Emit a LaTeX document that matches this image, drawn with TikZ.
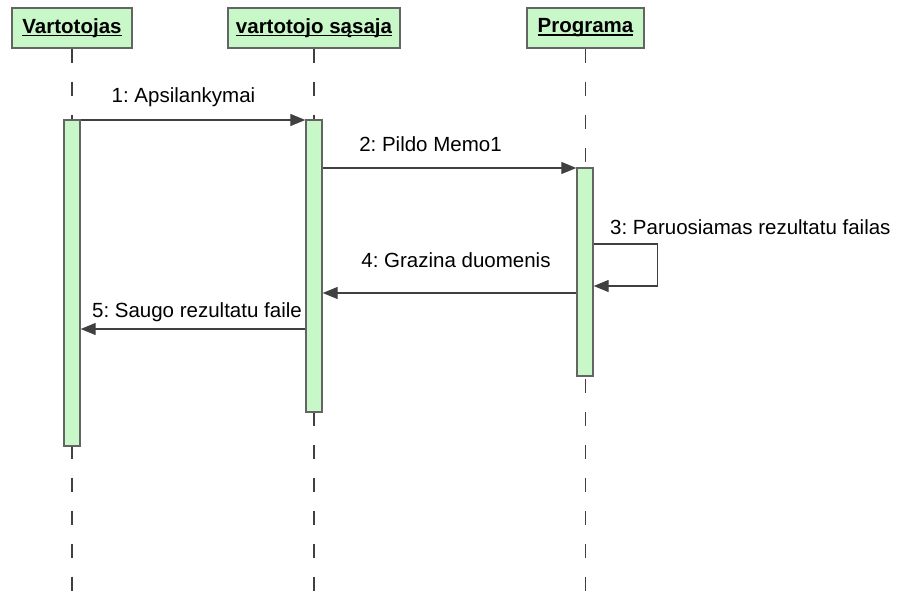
\documentclass[tikz,border=0pt]{standalone}
\usepackage{fontspec}
\setmainfont{Liberation Sans}
\usetikzlibrary{arrows.meta, positioning}

\definecolor{actgreen}{RGB}{200,248,200}
\definecolor{umlline}{RGB}{64,64,64}
\definecolor{umlframe}{RGB}{100,100,100}

% bold, underlined object name (rule kept out of the box size)
\newcommand{\objname}[1]{\setbox0\hbox{\bfseries #1}%
  \rlap{\smash{\rule[-3pt]{\wd0}{1.5pt}}}\box0}

\frenchspacing
\begin{document}
\begin{tikzpicture}[
  x=1pt, y=-1pt,
  every node/.style  = {font=\fontsize{20.5}{23}\selectfont},
  object/.style      = {draw=umlframe, fill=actgreen, line width=1.4pt,
                        minimum height=40pt, inner sep=0pt},
  lifeline/.style    = {draw=umlline, line width=1.3pt,
                        dash pattern=on 14pt off 19pt},
  activation/.style  = {draw=umlframe, fill=actgreen, line width=1.4pt,
                        minimum width=16pt, inner sep=0pt},
  msg/.style         = {draw=umlline, line width=1.3pt,
                        -{Triangle[length=15pt,width=12pt]}},
  msglabel/.style    = {anchor=base, inner sep=0pt}
]
\useasboundingbox (0,0) rectangle (898,593);

% ── Objects ───────────────────────────────────────────────────────────────────
\node[object, minimum width=120pt] (user) at (72,28)    {\objname{Vartotojas}};
\node[object, minimum width=172pt] (ui)   at (314,28)   {\objname{vartotojo sąsaja}};
\node[object, minimum width=117pt] (prog) at (585.5,28) {\objname{Programa}};

% ── Lifelines ─────────────────────────────────────────────────────────────────
\foreach \o in {user, ui, prog} {
  \coordinate (\o-end) at (\o.south |- 0,593);
  \draw[lifeline] (\o.south) -- (\o-end);
}

% ── Activations ───────────────────────────────────────────────────────────────
\node[activation, minimum height=326pt] (userAct) at (72,283)  {};
\node[activation, minimum height=292pt] (uiAct)   at (314,266) {};
\node[activation, minimum height=208pt] (progAct) at (585,272) {};

% ── Messages ──────────────────────────────────────────────────────────────────
\draw[msg] (userAct.east |- 0,120) -- (uiAct.west |- 0,120);
\draw[msg] (uiAct.east |- 0,168)   -- (progAct.west |- 0,168);
\draw[msg] (progAct.east |- 0,244) -- ++(64,0) -- ++(0,42)
           -- (progAct.east |- 0,286);
\draw[msg] (progAct.west |- 0,293) -- (uiAct.east |- 0,293);
\draw[msg] (uiAct.west |- 0,329)   -- (userAct.east |- 0,329);

% ── Message labels ────────────────────────────────────────────────────────────
\node[msglabel] (m1) at (183.5,103) {1: Apsilankymai};
\node[msglabel] (m2) at (430.5,152) {2: Pildo Memo1};
\node[msglabel, anchor=base west] (m3) at (610,235) {3: Paruosiamas rezultatu failas};
\node[msglabel] (m4) at (456,268)   {4: Grazina duomenis};
\node[msglabel, anchor=base east] (m5) at (302,318) {5: Saugo rezultatu faile};

\end{tikzpicture}
\end{document}
